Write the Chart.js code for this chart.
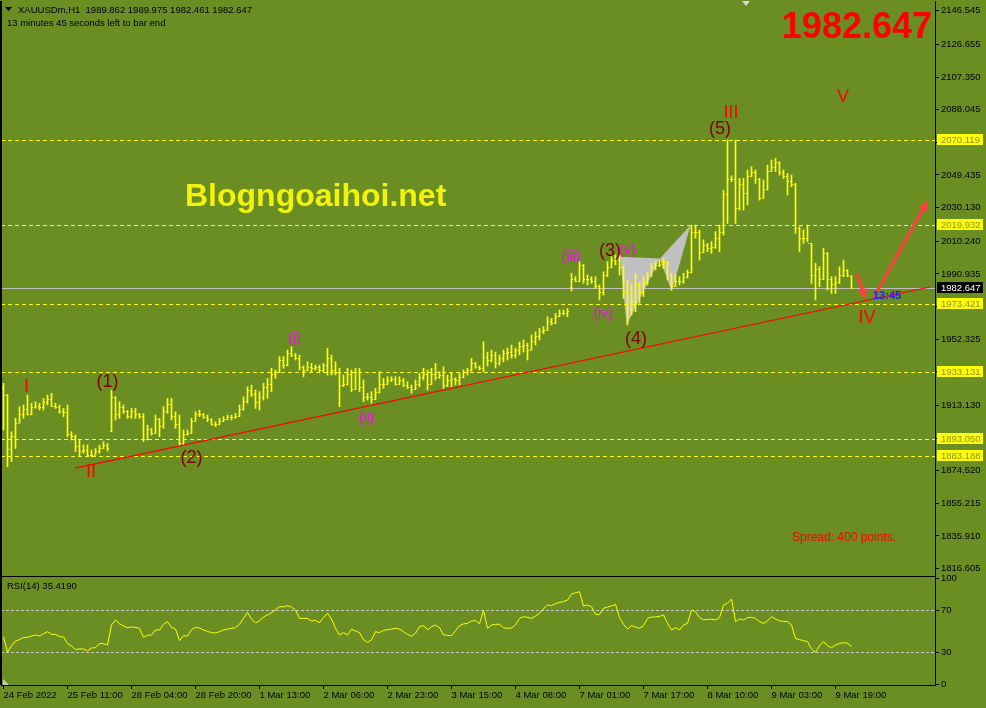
<!DOCTYPE html>
<html>
<head>
<meta charset="utf-8">
<script src="https://cdn.jsdelivr.net/npm/chart.js@4.4.0/dist/chart.umd.min.js"></script>
<style>
html, body { margin: 0; padding: 0; background: #6b8e23; overflow: hidden; }
#wrap { position: relative; width: 986px; height: 708px; }
canvas { position: absolute; left: 0; }
#main { top: -7px; }
#rsi { top: 569px; }
</style>
</head>
<body>
<div id="wrap">
<canvas id="main" width="986" height="591"></canvas>
<canvas id="rsi" width="986" height="139"></canvas>
</div>
<script>
// ---- data ----
const timeLabels = ['24 Feb 2022', '25 Feb 11:00', '28 Feb 04:00', '28 Feb 20:00', '1 Mar 13:00', '2 Mar 06:00', '2 Mar 23:00',
  '3 Mar 15:00', '4 Mar 08:00', '7 Mar 01:00', '7 Mar 17:00', '8 Mar 10:00', '9 Mar 03:00', '9 Mar 19:00'];
const barsPerLabel = 16;

const priceTicks = [2146.545, 2126.655, 2107.350, 2088.045, 2068.740, 2049.435, 2030.130, 2010.240, 1990.935,
  1971.630, 1952.325, 1933.020, 1913.130, 1893.825, 1874.520, 1855.215, 1835.910, 1816.605];
const rsiTicks = [100, 70, 30, 0];
const levels = [2070.119, 2019.932, 1973.421, 1933.131, 1893.050, 1883.188];
const rsiLevels = [70, 30];
const lastPrice = 1982.647;

const opens = [
  1924.0, 1919.3, 1887.3, 1895.0, 1903.0, 1908.0, 1911.0, 1908.0, 1912.0, 1913.0,
  1912.0, 1915.0, 1917.0, 1913.0, 1912.0, 1910.0, 1909.0, 1896.0, 1895.0, 1889.0,
  1886.0, 1887.0, 1884.0, 1884.0, 1886.0, 1888.0, 1890.0, 1898.0, 1918.0, 1908.0,
  1912.0, 1910.0, 1907.0, 1910.0, 1908.0, 1907.0, 1893.0, 1899.0, 1897.0, 1905.0,
  1901.0, 1910.0, 1914.0, 1907.0, 1902.0, 1891.0, 1896.0, 1897.0, 1904.0, 1908.0,
  1908.0, 1906.0, 1905.0, 1902.0, 1902.0, 1904.0, 1905.0, 1906.0, 1906.0, 1907.0,
  1911.0, 1916.0, 1922.0, 1920.0, 1915.0, 1918.0, 1924.0, 1926.0, 1932.0, 1933.0,
  1940.0, 1937.0, 1944.0, 1943.0, 1941.0, 1936.0, 1934.0, 1936.0, 1935.0, 1936.0,
  1934.0, 1937.0, 1941.0, 1934.0, 1933.0, 1925.0, 1926.0, 1932.0, 1923.0, 1933.0,
  1924.0, 1918.0, 1918.0, 1917.0, 1921.0, 1926.0, 1926.0, 1928.0, 1929.0, 1926.0,
  1928.0, 1925.0, 1924.0, 1923.0, 1926.0, 1930.0, 1932.0, 1926.0, 1932.0, 1930.0,
  1931.0, 1925.0, 1928.0, 1929.0, 1928.0, 1930.0, 1933.0, 1934.0, 1938.0, 1936.0,
  1935.0, 1942.0, 1940.0, 1943.0, 1938.0, 1941.0, 1944.0, 1945.0, 1943.0, 1946.0,
  1948.0, 1949.0, 1946.0, 1951.0, 1954.0, 1957.0, 1958.0, 1963.0, 1962.0, 1966.0,
  1968.0, 1968.0, 1983.0, 1988.0, 1987.0, 1996.0, 1988.0, 1988.0, 1987.0, 1984.0,
  1980.0, 1990.0, 1995.0, 1999.0, 2000.0, 1995.0, 1980.0, 1970.0, 1975.0, 1985.0,
  1980.0, 1986.0, 1990.0, 1995.0, 1996.0, 1997.0, 1998.0, 1990.0, 1984.0, 1987.0,
  1987.0, 1989.0, 1992.0, 2016.0, 2016.0, 2004.0, 2008.0, 2006.0, 2007.0, 2012.0,
  2016.0, 2038.0, 2047.0, 2047.0, 2030.0, 2044.0, 2039.0, 2049.0, 2051.0, 2047.0,
  2036.0, 2041.0, 2052.0, 2054.0, 2057.0, 2051.0, 2049.0, 2046.0, 2044.0, 2018.0,
  2012.0, 2012.0, 2009.0, 1990.0, 1994.0, 1988.0, 2003.0, 1988.0, 1985.0, 1986.0,
  1990.0, 1993.0, 1989.862];
const highs = [
  1926.2, 1919.7, 1897.6, 1905.5, 1912.4, 1913.4, 1919.3, 1914.4, 1915.3, 1914.4,
  1917.3, 1919.3, 1920.3, 1914.4, 1913.4, 1911.4, 1913.4, 1897.6, 1895.6, 1892.7,
  1889.7, 1889.7, 1886.8, 1887.7, 1889.7, 1891.7, 1890.7, 1922.2, 1918.3, 1915.3,
  1913.4, 1910.2, 1911.4, 1911.4, 1908.4, 1908.4, 1901.5, 1899.5, 1907.4, 1905.6,
  1912.4, 1917.3, 1917.3, 1909.4, 1907.4, 1898.6, 1898.6, 1905.5, 1909.4, 1910.4,
  1908.4, 1907.4, 1905.3, 1903.5, 1905.5, 1906.5, 1907.4, 1907.4, 1908.4, 1913.4,
  1918.3, 1924.2, 1925.2, 1922.3, 1921.3, 1926.2, 1929.1, 1935.1, 1934.1, 1942.0,
  1942.0, 1945.9, 1947.9, 1943.9, 1942.9, 1936.5, 1939.0, 1938.0, 1937.0, 1937.0,
  1938.0, 1946.9, 1942.9, 1939.0, 1935.1, 1931.1, 1935.1, 1934.1, 1935.1, 1935.1,
  1928.2, 1920.3, 1921.3, 1923.2, 1933.1, 1929.1, 1930.1, 1930.1, 1930.1, 1930.1,
  1929.1, 1927.2, 1925.2, 1928.2, 1932.1, 1935.1, 1934.1, 1935.1, 1938.0, 1933.1,
  1936.0, 1931.1, 1932.1, 1929.5, 1932.1, 1934.1, 1935.1, 1941.0, 1938.5, 1936.5,
  1950.8, 1944.7, 1945.9, 1944.7, 1943.0, 1945.9, 1947.1, 1948.9, 1947.1, 1950.6,
  1951.8, 1950.0, 1954.8, 1956.6, 1958.7, 1959.7, 1965.6, 1964.6, 1967.6, 1969.6,
  1969.6, 1970.5, 1991.3, 1989.3, 1998.2, 1996.5, 1990.3, 1989.3, 1989.3, 1984.4,
  1992.2, 1998.2, 2001.1, 2002.1, 2002.1, 1995.5, 1987.3, 1984.4, 1991.3, 1985.3,
  1989.3, 1992.2, 1997.2, 1998.2, 1999.1, 2000.1, 1998.2, 1991.3, 1990.3, 1989.3,
  1991.3, 1993.2, 2019.8, 2019.8, 2016.9, 2011.0, 2009.0, 2010.0, 2015.9, 2019.8,
  2040.5, 2070.1, 2049.0, 2070.1, 2047.4, 2047.4, 2052.4, 2054.3, 2052.4, 2047.5,
  2046.5, 2055.3, 2058.3, 2059.3, 2057.3, 2052.4, 2050.4, 2049.4, 2044.5, 2018.8,
  2016.9, 2019.8, 2009.0, 1997.2, 1995.2, 2006.0, 2003.5, 1989.3, 1989.3, 1995.2,
  1999.1, 1993.5, 1989.975];
const lows = [
  1898.6, 1876.9, 1879.9, 1887.7, 1902.8, 1905.5, 1907.4, 1907.6, 1911.4, 1910.4,
  1910.4, 1913.4, 1912.4, 1911.4, 1908.4, 1906.5, 1894.6, 1892.7, 1885.8, 1882.8,
  1884.8, 1882.8, 1882.8, 1883.8, 1884.8, 1887.7, 1886.2, 1897.6, 1904.5, 1905.5,
  1908.4, 1905.5, 1905.5, 1905.5, 1905.5, 1891.7, 1892.7, 1895.6, 1896.5, 1894.6,
  1899.6, 1908.4, 1904.5, 1899.6, 1889.7, 1889.7, 1895.6, 1896.6, 1903.8, 1906.5,
  1905.5, 1903.5, 1901.5, 1900.6, 1901.8, 1903.5, 1904.5, 1904.5, 1905.5, 1906.5,
  1910.4, 1914.4, 1918.3, 1911.4, 1910.4, 1916.3, 1917.3, 1921.3, 1929.1, 1932.5,
  1935.1, 1936.5, 1942.0, 1940.0, 1934.1, 1930.1, 1933.5, 1933.1, 1934.1, 1933.1,
  1933.1, 1931.1, 1931.1, 1931.1, 1912.4, 1924.2, 1925.2, 1921.3, 1922.5, 1921.3,
  1915.3, 1916.3, 1914.4, 1916.5, 1920.5, 1923.2, 1925.5, 1927.2, 1925.2, 1925.5,
  1924.2, 1923.2, 1920.3, 1922.5, 1924.2, 1928.2, 1922.3, 1925.5, 1928.2, 1929.1,
  1923.2, 1924.2, 1924.2, 1925.2, 1925.2, 1929.5, 1931.1, 1933.5, 1935.1, 1934.1,
  1933.1, 1936.4, 1938.8, 1935.3, 1937.0, 1938.8, 1940.0, 1941.2, 1941.2, 1943.0,
  1944.7, 1940.0, 1945.9, 1948.9, 1951.8, 1955.5, 1957.5, 1960.7, 1961.5, 1965.6,
  1966.6, 1965.6, 1980.8, 1986.3, 1986.3, 1985.3, 1984.4, 1985.3, 1982.4, 1975.5,
  1978.4, 1989.3, 1994.5, 1996.2, 1990.3, 1976.5, 1960.7, 1966.6, 1968.6, 1973.5,
  1977.5, 1984.4, 1989.5, 1993.2, 1995.2, 1994.2, 1987.3, 1981.4, 1983.4, 1984.4,
  1985.3, 1988.5, 1991.5, 2012.0, 1999.1, 2003.5, 2004.1, 2003.1, 2006.0, 2004.1,
  2013.9, 2020.8, 2045.5, 2020.8, 2028.7, 2028.7, 2031.7, 2048.5, 2044.5, 2034.6,
  2035.6, 2040.5, 2051.4, 2051.4, 2049.4, 2047.4, 2037.6, 2042.5, 2014.9, 2004.1,
  2009.0, 2010.0, 1985.3, 1975.5, 1983.4, 1987.5, 1981.4, 1979.4, 1979.4, 1985.3,
  1989.3, 1989.3, 1982.461];
const closes = [
  1919.3, 1887.3, 1895.0, 1903.0, 1908.0, 1911.0, 1908.0, 1912.0, 1913.0, 1912.0,
  1915.0, 1917.0, 1913.0, 1912.0, 1910.0, 1909.0, 1896.0, 1895.0, 1889.0, 1886.0,
  1887.0, 1884.0, 1884.0, 1886.0, 1888.0, 1890.0, 1888.0, 1918.0, 1908.0, 1912.0,
  1910.0, 1907.0, 1910.0, 1908.0, 1907.0, 1893.0, 1899.0, 1897.0, 1905.0, 1901.0,
  1910.0, 1914.0, 1907.0, 1902.0, 1891.0, 1896.0, 1897.0, 1904.0, 1908.0, 1908.0,
  1906.0, 1905.0, 1902.0, 1902.0, 1904.0, 1905.0, 1906.0, 1906.0, 1907.0, 1911.0,
  1916.0, 1922.0, 1920.0, 1915.0, 1918.0, 1924.0, 1926.0, 1932.0, 1933.0, 1940.0,
  1937.0, 1944.0, 1943.0, 1941.0, 1936.0, 1934.0, 1936.0, 1935.0, 1936.0, 1934.0,
  1937.0, 1941.0, 1934.0, 1933.0, 1925.0, 1926.0, 1932.0, 1923.0, 1933.0, 1924.0,
  1918.0, 1918.0, 1917.0, 1921.0, 1926.0, 1926.0, 1928.0, 1929.0, 1926.0, 1928.0,
  1925.0, 1924.0, 1923.0, 1926.0, 1930.0, 1932.0, 1926.0, 1932.0, 1930.0, 1931.0,
  1925.0, 1928.0, 1929.0, 1928.0, 1930.0, 1933.0, 1934.0, 1938.0, 1936.0, 1935.0,
  1942.0, 1940.0, 1943.0, 1938.0, 1941.0, 1944.0, 1945.0, 1943.0, 1946.0, 1948.0,
  1949.0, 1946.0, 1951.0, 1954.0, 1957.0, 1958.0, 1963.0, 1962.0, 1966.0, 1968.0,
  1968.0, 1969.0, 1988.0, 1987.0, 1996.0, 1988.0, 1988.0, 1987.0, 1984.0, 1980.0,
  1990.0, 1995.0, 1999.0, 2000.0, 1995.0, 1980.0, 1970.0, 1975.0, 1985.0, 1980.0,
  1986.0, 1990.0, 1995.0, 1996.0, 1997.0, 1998.0, 1990.0, 1984.0, 1987.0, 1987.0,
  1989.0, 1992.0, 2016.0, 2016.0, 2004.0, 2008.0, 2006.0, 2007.0, 2012.0, 2016.0,
  2038.0, 2047.0, 2047.0, 2030.0, 2044.0, 2039.0, 2049.0, 2051.0, 2047.0, 2036.0,
  2041.0, 2052.0, 2054.0, 2057.0, 2051.0, 2049.0, 2046.0, 2044.0, 2018.0, 2012.0,
  2012.0, 2009.0, 1990.0, 1994.0, 1988.0, 2003.0, 1988.0, 1985.0, 1986.0, 1990.0,
  1993.0, 1990.0, 1982.647];
const rsiValues = [
  44.8, 30.0, 36.3, 40.7, 42.0, 43.9, 44.2, 45.4, 46.4, 45.4,
  47.6, 49.5, 47.0, 47.0, 44.8, 44.5, 38.2, 36.0, 32.5, 33.2,
  33.2, 31.3, 34.1, 34.4, 38.2, 38.2, 36.9, 55.8, 60.6, 57.1,
  54.9, 53.3, 53.9, 53.6, 52.7, 44.2, 46.1, 46.4, 51.1, 51.1,
  56.5, 59.0, 53.6, 52.0, 41.0, 45.7, 45.4, 51.4, 53.6, 53.0,
  51.1, 49.8, 48.6, 48.3, 49.5, 51.1, 52.0, 52.7, 53.3, 56.5,
  62.1, 67.8, 61.2, 58.0, 59.6, 63.4, 65.3, 67.5, 70.3, 73.1,
  73.1, 74.1, 72.8, 70.0, 62.1, 62.1, 62.1, 59.6, 60.2, 58.0,
  62.8, 66.9, 61.5, 52.7, 46.4, 48.6, 46.4, 51.7, 50.2, 48.6,
  42.0, 39.4, 41.7, 49.5, 48.6, 50.8, 51.4, 52.0, 52.7, 52.0,
  49.5, 47.0, 45.1, 48.0, 54.3, 55.2, 51.1, 54.3, 55.8, 53.3,
  46.4, 46.1, 45.7, 50.5, 55.2, 56.8, 57.4, 59.6, 59.9, 57.1,
  69.7, 52.7, 55.8, 56.5, 56.5, 53.3, 52.7, 53.0, 55.8, 62.1,
  63.7, 63.1, 62.1, 64.3, 66.9, 71.3, 74.7, 74.1, 76.0, 77.2,
  77.9, 79.4, 85.1, 86.4, 87.3, 73.8, 74.7, 73.1, 65.9, 65.9,
  71.6, 72.8, 73.8, 75.4, 62.8, 56.5, 52.0, 55.2, 53.9, 52.7,
  55.2, 62.1, 63.4, 63.4, 64.0, 65.3, 57.4, 51.1, 53.3, 51.4,
  55.8, 57.4, 70.0, 68.4, 62.8, 60.6, 61.2, 61.2, 60.6, 62.8,
  74.7, 76.3, 80.4, 59.0, 61.5, 60.6, 62.8, 63.1, 62.1, 59.0,
  57.4, 59.6, 63.7, 61.5, 59.6, 59.3, 59.0, 55.8, 43.2, 42.0,
  41.0, 40.1, 33.2, 30.0, 36.3, 40.1, 36.3, 34.4, 36.9, 38.5,
  39.1, 38.5, 35.419];

// wave marks (bar index, price)
const waveText = ['I', 'II', 'III', 'IV', 'V', '(1)', '(2)', '(3)', '(4)', '(5)', '(i)', '(ii)', '(iii)', '(iv)', '(v)'];
const waveDegree = [0, 0, 0, 0, 0, 1, 1, 1, 1, 1, 2, 2, 2, 2, 2];
const waveBar = [5.75, 21.9, 181.9, 215.9, 209.9, 26, 47, 151.6, 158.1, 179.1, 72.8, 90.8, 141.9, 149.9, 156];
const wavePrice = [1924.3, 1873.7, 2086.1, 1964.8, 2095.5, 1926.7, 1882.3, 2004.5, 1952.4, 2076.6, 1952.6, 1905.7, 2000.6, 1967.2, 2005.1];

// harmonic pattern X A B C D
const patternBar = [154.1, 155.8, 164.1, 167.05, 171.8];
const patternPrice = [2001.1, 1960.7, 2000.1, 1980.4, 2019.8];

const trendBar = [17.9, 231.6];
const trendPrice = [1876.1, 1983.2];

const arrowBar = [[213.4, 215.6], [217.6, 231.1]];
const arrowPrice = [[1990.9, 1975.5], [1977.2, 2034.6]];

// ---- look ----
const barColor = '#ffff00';
const FONT = "'Liberation Sans', Arial, sans-serif";
const degreeStyle = [
  {font: '18px ' + FONT, color: '#ff0000'},
  {font: '18px ' + FONT, color: '#800000'},
  {font: '14px ' + FONT, color: '#ff00ff'}
];
const MAIN_SHIFT = 7;   // main canvas sits 7px above the page top
const RSI_TOP = 569;

Chart.defaults.font.family = FONT;
Chart.defaults.font.size = 9.5;
Chart.defaults.color = '#000';

const xMin = -0.625, xMax = 232.875;

function text(ctx, s, x, y, font, color, align) {
  ctx.font = font;
  ctx.fillStyle = color;
  ctx.textAlign = align || 'left';
  ctx.textBaseline = 'alphabetic';
  ctx.fillText(s, x, y);
}

function arrow(ctx, x1, y1, x2, y2) {
  const ang = Math.atan2(y2 - y1, x2 - x1), hl = 12;
  ctx.beginPath();
  ctx.moveTo(x1, y1);
  ctx.lineTo(x2 - Math.cos(ang) * hl * 0.7, y2 - Math.sin(ang) * hl * 0.7);
  ctx.stroke();
  ctx.beginPath();
  ctx.moveTo(x2, y2);
  ctx.lineTo(x2 - hl * Math.cos(ang - 0.4), y2 - hl * Math.sin(ang - 0.4));
  ctx.lineTo(x2 - hl * Math.cos(ang + 0.4), y2 - hl * Math.sin(ang + 0.4));
  ctx.closePath();
  ctx.fill();
}

const mainDecor = {
  id: 'mainDecor',
  beforeDatasetsDraw(chart) {
    const {ctx, chartArea: a, scales: {x, y}} = chart;
    ctx.save();
    // pattern triangles (background objects)
    ctx.fillStyle = '#c0c0c0';
    [[0, 1, 2], [2, 3, 4]].forEach(tri => {
      ctx.beginPath();
      tri.forEach((k, j) => {
        const px = x.getPixelForValue(patternBar[k]), py = y.getPixelForValue(patternPrice[k]);
        if (j) ctx.lineTo(px, py); else ctx.moveTo(px, py);
      });
      ctx.closePath();
      ctx.fill();
    });
    // horizontal levels
    ctx.lineWidth = 1;
    ctx.strokeStyle = '#ffff00';
    ctx.setLineDash([4, 3]);
    levels.forEach(l => {
      const py = Math.round(y.getPixelForValue(l)) + 0.5;
      ctx.beginPath(); ctx.moveTo(a.left, py); ctx.lineTo(a.right, py); ctx.stroke();
    });
    ctx.setLineDash([]);
    ctx.strokeStyle = '#c0c0c0';
    const cp = Math.round(y.getPixelForValue(lastPrice)) + 0.5;
    ctx.beginPath(); ctx.moveTo(a.left, cp); ctx.lineTo(a.right, cp); ctx.stroke();
    ctx.restore();
  },
  afterDatasetsDraw(chart) {
    const {ctx, chartArea: a, scales: {x, y}} = chart;
    ctx.save();
    // open / close ticks
    ctx.fillStyle = barColor;
    for (let i = 0; i < closes.length; i++) {
      const px = Math.floor(x.getPixelForValue(i));
      ctx.fillRect(px - 1, Math.round(y.getPixelForValue(opens[i])), 1, 1);
      ctx.fillRect(px + 1, Math.round(y.getPixelForValue(closes[i])), 1, 1);
    }
    // trend line
    ctx.strokeStyle = '#ff0000';
    ctx.lineWidth = 1.2;
    ctx.beginPath();
    ctx.moveTo(x.getPixelForValue(trendBar[0]), y.getPixelForValue(trendPrice[0]));
    ctx.lineTo(x.getPixelForValue(trendBar[1]), y.getPixelForValue(trendPrice[1]));
    ctx.stroke();
    // arrows
    ctx.strokeStyle = '#ff4040';
    ctx.fillStyle = '#ff4040';
    ctx.lineWidth = 3;
    arrowBar.forEach((b, k) => {
      arrow(ctx, x.getPixelForValue(b[0]), y.getPixelForValue(arrowPrice[k][0]),
        x.getPixelForValue(b[1]), y.getPixelForValue(arrowPrice[k][1]));
    });
    // wave labels
    ctx.textAlign = 'center';
    ctx.textBaseline = 'middle';
    waveText.forEach((t, k) => {
      const st = degreeStyle[waveDegree[k]];
      ctx.font = st.font;
      ctx.fillStyle = st.color;
      ctx.fillText(t, x.getPixelForValue(waveBar[k]), y.getPixelForValue(wavePrice[k]));
    });
    // screen texts
    const sy = MAIN_SHIFT;
    text(ctx, 'Blogngoaihoi.net', 185, 206 + sy, 'bold 32px ' + FONT, '#f2f20a');
    text(ctx, lastPrice.toFixed(3), 932, 38 + sy, 'bold 36px ' + FONT, '#ff0000', 'right');
    text(ctx, 'Spread: 400 points.', 792, 541 + sy, '12px ' + FONT, '#ff0000');
    text(ctx, '13:45', 873, 299 + sy, 'bold 11px ' + FONT, '#2020ff');
    ctx.restore();
  },
  afterDraw(chart) {
    const {ctx, chartArea: a, scales: {y}} = chart;
    const sy = MAIN_SHIFT;
    ctx.save();
    // left border
    ctx.fillStyle = '#000';
    ctx.fillRect(0, a.top, 2, a.bottom - a.top);
    // level price tags on the axis
    ctx.font = '9.5px ' + FONT;
    ctx.textBaseline = 'middle';
    ctx.textAlign = 'left';
    levels.forEach(l => {
      const py = Math.round(y.getPixelForValue(l));
      ctx.fillStyle = '#ffff00';
      ctx.fillRect(a.right - 3, py, 3, 1);
      ctx.fillRect(a.right + 2, py - 6, 46, 11);
      ctx.fillStyle = '#8f8f30';
      ctx.fillText(l.toFixed(3), a.right + 6, py);
    });
    const cp = Math.round(y.getPixelForValue(lastPrice));
    ctx.fillStyle = '#000';
    ctx.fillRect(a.right + 2, cp - 6, 46, 11);
    ctx.fillStyle = '#ffffff';
    ctx.fillText(lastPrice.toFixed(3), a.right + 6, cp);
    // header
    ctx.fillStyle = '#000';
    ctx.beginPath();
    ctx.moveTo(5, 7 + sy); ctx.lineTo(12, 7 + sy); ctx.lineTo(8.5, 11 + sy); ctx.closePath(); ctx.fill();
    text(ctx, 'XAUUSDm,H1  ' + [opens[opens.length - 1], highs[highs.length - 1], lows[lows.length - 1], closes[closes.length - 1]].map(v => v.toFixed(3)).join(' '),
      18, 13 + sy, '9.5px ' + FONT, '#000');
    text(ctx, '13 minutes 45 seconds left to bar end', 7, 26 + sy, '9.5px ' + FONT, '#000');
    // chart shift marker
    ctx.fillStyle = '#d8d8d8';
    ctx.beginPath();
    ctx.moveTo(742, a.top); ctx.lineTo(750, a.top); ctx.lineTo(746, a.top + 5); ctx.closePath(); ctx.fill();
    ctx.restore();
  }
};

const rsiDecor = {
  id: 'rsiDecor',
  beforeDatasetsDraw(chart) {
    const {ctx, chartArea: a, scales: {y}} = chart;
    ctx.save();
    ctx.strokeStyle = '#c8c8c8';
    ctx.lineWidth = 1;
    ctx.setLineDash([3, 2]);
    rsiLevels.forEach(l => {
      const py = Math.round(y.getPixelForValue(l)) + 0.5;
      ctx.beginPath(); ctx.moveTo(a.left, py); ctx.lineTo(a.right, py); ctx.stroke();
    });
    ctx.restore();
  },
  afterDraw(chart) {
    const {ctx, chartArea: a} = chart;
    ctx.save();
    ctx.fillStyle = '#000';
    ctx.fillRect(0, a.top - 1, a.right, 1);
    ctx.fillRect(0, a.top, 2, a.bottom - a.top);
    text(ctx, 'RSI(14) ' + rsiValues[rsiValues.length - 1].toFixed(4), 7, 589 - RSI_TOP, '9.5px ' + FONT, '#000');
    ctx.fillStyle = '#c8c8c8';
    ctx.beginPath();
    ctx.moveTo(3, a.bottom - 6); ctx.lineTo(3, a.bottom); ctx.lineTo(9, a.bottom); ctx.closePath(); ctx.fill();
    ctx.restore();
  }
};

// ---- price window ----
new Chart(document.getElementById('main'), {
  type: 'bar',
  data: {
    datasets: [{
      data: highs.map((h, i) => ({x: i, y: [lows[i], h]})),
      backgroundColor: barColor,
      borderWidth: 0,
      barThickness: 1,
      minBarLength: 1,
      grouped: false
    }]
  },
  options: {
    responsive: false,
    animation: false,
    devicePixelRatio: 1,
    layout: {padding: {left: 1, top: 8, bottom: 8, right: 0}},
    plugins: {legend: {display: false}, tooltip: {enabled: false}},
    scales: {
      x: {type: 'linear', min: xMin, max: xMax, display: false, offset: false, grid: {offset: false}},
      y: {
        type: 'linear', position: 'right', min: 1812.25, max: 2152.34, bounds: 'data',
        afterFit: s => { s.width = 51; },
        afterBuildTicks: s => { s.ticks = priceTicks.map(v => ({value: v})); },
        grid: {drawOnChartArea: false, color: '#000', tickLength: 4},
        border: {color: '#000'},
        ticks: {autoSkip: false, padding: 2, color: '#000', callback: v => v.toFixed(3)}
      }
    }
  },
  plugins: [mainDecor]
});

// ---- RSI window ----
new Chart(document.getElementById('rsi'), {
  type: 'line',
  data: {
    datasets: [{
      data: rsiValues.map((v, i) => ({x: i, y: v})),
      borderColor: '#ffff00',
      borderWidth: 1,
      pointRadius: 0,
      tension: 0,
      fill: false
    }]
  },
  options: {
    responsive: false,
    animation: false,
    devicePixelRatio: 1,
    layout: {padding: {left: 1, top: 8, bottom: 0, right: 0}},
    plugins: {legend: {display: false}, tooltip: {enabled: false}},
    scales: {
      x: {
        type: 'linear', min: xMin, max: xMax, bounds: 'data',
        afterFit: s => { s.height = 23; },
        afterBuildTicks: s => { s.ticks = timeLabels.map((t, k) => ({value: k * barsPerLabel})); },
        grid: {drawOnChartArea: false, color: '#000', tickLength: 4},
        border: {color: '#000'},
        ticks: {autoSkip: false, align: 'start', maxRotation: 0, minRotation: 0, padding: 1, color: '#000',
          callback: (v, k) => timeLabels[k]}
      },
      y: {
        type: 'linear', position: 'right', min: -0.9, max: 101.2, bounds: 'data',
        afterFit: s => { s.width = 51; },
        afterBuildTicks: s => { s.ticks = rsiTicks.map(v => ({value: v})); },
        grid: {drawOnChartArea: false, color: '#000', tickLength: 4},
        border: {color: '#000'},
        ticks: {autoSkip: false, padding: 2, color: '#000', callback: v => String(v)}
      }
    }
  },
  plugins: [rsiDecor]
});
</script>
</body>
</html>
